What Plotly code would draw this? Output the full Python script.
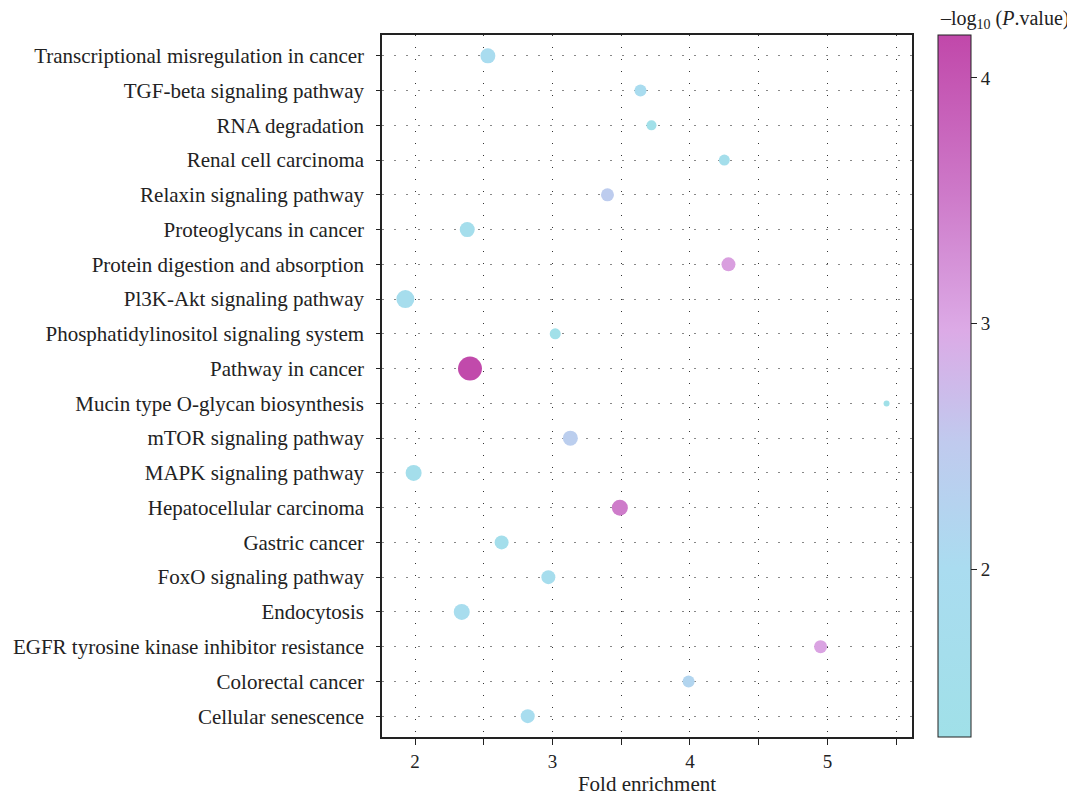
import plotly.graph_objects as go

pathways = [
    "Transcriptional misregulation in cancer",
    "TGF-beta signaling pathway",
    "RNA degradation",
    "Renal cell carcinoma",
    "Relaxin signaling pathway",
    "Proteoglycans in cancer",
    "Protein digestion and absorption",
    "Pl3K-Akt signaling pathway",
    "Phosphatidylinositol signaling system",
    "Pathway in cancer",
    "Mucin type O-glycan biosynthesis",
    "mTOR signaling pathway",
    "MAPK signaling pathway",
    "Hepatocellular carcinoma",
    "Gastric cancer",
    "FoxO signaling pathway",
    "Endocytosis",
    "EGFR tyrosine kinase inhibitor resistance",
    "Colorectal cancer",
    "Cellular senescence",
]
fold_enrichment = [2.53, 3.64, 3.72, 4.25, 3.40, 2.38, 4.28, 1.93, 3.02, 2.40,
                   5.43, 3.13, 1.99, 3.49, 2.63, 2.97, 2.34, 4.95, 3.99, 2.82]
neg_log10_p = [1.95, 1.95, 1.40, 1.60, 2.45, 1.65, 3.10, 1.75, 1.40, 4.15,
               1.35, 2.40, 1.60, 3.50, 1.60, 1.75, 1.85, 3.05, 2.20, 1.90]
gene_count = [7.5, 6, 5, 5.5, 6.5, 7.5, 7, 9, 5.5, 12,
              3, 7.5, 8, 8, 7, 7, 8, 6.5, 6, 7]
colorbar_title = "\u2013log<sub>10</sub> (<i>P</i>.value)"

# bottom-to-top plotting order
cats = pathways[::-1]
xs = fold_enrichment[::-1]
cs = neg_log10_p[::-1]
ss = gene_count[::-1]

colorscale = [
    [0.0, "#a0e0e8"],
    [0.24, "#aadcf0"],
    [0.42, "#c0caee"],
    [0.58, "#dcaae6"],
    [0.78, "#cd78c8"],
    [1.0, "#c148aa"],
]

xtickvals = [2, 2.5, 3, 3.5, 4, 4.5, 5, 5.5]
xticktext = ["2", "", "3", "", "4", "", "5", ""]

FONT = "Liberation Serif"

fig = go.Figure(go.Scatter(
    x=xs, y=cats, mode="markers",
    marker=dict(
        size=ss, sizemode="diameter", sizeref=0.5,
        color=cs, colorscale=colorscale, cmin=1.317, cmax=4.175,
        line=dict(width=0), opacity=1,
        colorbar=dict(
            x=1.0495, xanchor="left", xpad=0, y=0, yanchor="bottom", ypad=0,
            len=1, lenmode="fraction",
            thickness=33, outlinecolor="#222", outlinewidth=1,
            tickvals=[2, 3, 4], ticks="outside", ticklen=6, tickcolor="#222",
            tickfont=dict(family=FONT, size=19, color="#222"),
        ),
    ),
    showlegend=False,
))

fig.add_annotation(
    text=colorbar_title, xref="paper", yref="paper", x=1.049, y=1.022,
    xanchor="left", yanchor="middle", showarrow=False,
    font=dict(family=FONT, size=20, color="#222"),
)

fig.update_layout(
    width=1075, height=799,
    margin=dict(l=374, r=171, t=27, b=70),
    paper_bgcolor="white", plot_bgcolor="white",
    font=dict(family=FONT, size=21, color="#222"),
    xaxis=dict(
        range=[1.76, 5.615], tickvals=xtickvals, ticktext=xticktext,
        ticks="outside", ticklen=6, tickcolor="#222",
        showline=True, linecolor="#222", linewidth=1.5, mirror=True,
        showgrid=True, gridcolor="#333", gridwidth=1, griddash="1px,11px",
        zeroline=False, automargin=False,
        title=dict(text="Fold enrichment", font=dict(size=21), standoff=6),
        tickfont=dict(size=19),
    ),
    yaxis=dict(
        categoryorder="array", categoryarray=cats, range=[-0.6, 19.6],
        ticks="outside", ticklen=4, tickcolor="#222",
        showline=True, linecolor="#222", linewidth=1.5, mirror=True,
        showgrid=True, gridcolor="#888", gridwidth=1, griddash="2px,10px",
        zeroline=False, automargin=False,
        tickfont=dict(size=21), ticklabelstandoff=8,
    ),
)

fig.write_html("out.html")
